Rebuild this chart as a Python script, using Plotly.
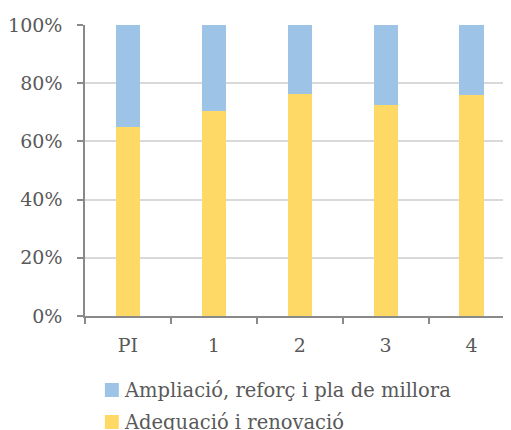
import plotly.graph_objects as go

categories = ["PI", "1", "2", "3", "4"]
adequacio = [0.65, 0.705, 0.763, 0.726, 0.758]
ampliacio = [1 - v for v in adequacio]

label_adequacio = "Adequació i renovació"
label_ampliacio = "Ampliació, reforç i pla de millora"

font_family = "DejaVu Serif"
text_color = "#595959"
axis_color = "#898989"
yellow = "#FFD966"
blue = "#9DC3E6"

fig = go.Figure()
fig.add_trace(go.Bar(x=categories, y=adequacio, name=label_adequacio,
                     marker=dict(color=yellow, line=dict(width=0)), width=0.28))
fig.add_trace(go.Bar(x=categories, y=ampliacio, name=label_ampliacio,
                     marker=dict(color=blue, line=dict(width=0)), width=0.28))

# legend drawn by hand below the plot (it runs off the bottom edge in the original)
legend_rows = [(label_ampliacio, blue, -0.2302), (label_adequacio, yellow, -0.3402)]
for label, color, ytop in legend_rows:
    fig.add_shape(type="rect", xref="paper", yref="paper",
                  x0=0.0467, x1=0.0794, y0=ytop, y1=ytop - 0.0482,
                  fillcolor=color, line=dict(width=0))
    fig.add_annotation(text=label, xref="paper", yref="paper",
                       x=0.086, y=ytop - 0.0241, xanchor="left", yanchor="middle",
                       showarrow=False, font=dict(size=19.5, color=text_color))

fig.update_layout(
    width=503, height=422,
    margin=dict(l=75, r=0, t=17, b=114, pad=0),
    barmode="stack",
    plot_bgcolor="white", paper_bgcolor="white",
    font=dict(family=font_family, size=19, color=text_color),
    showlegend=False,
    xaxis=dict(range=[-0.5, 4.46], showline=True, linecolor=axis_color, linewidth=1.5,
               ticks="outside", tickson="boundaries", ticklen=6, tickcolor=axis_color,
               tickwidth=1.5, showgrid=False, ticklabelstandoff=11),
    yaxis=dict(range=[0, 1], dtick=0.2, tickformat=".0%", showline=True,
               linecolor=axis_color, linewidth=1.5, ticks="outside", ticklen=6,
               tickcolor=axis_color, tickwidth=1.5, gridcolor="#D9D9D9", gridwidth=1.5,
               zeroline=False, ticklabelstandoff=11),
)

fig.write_html("out.html")
